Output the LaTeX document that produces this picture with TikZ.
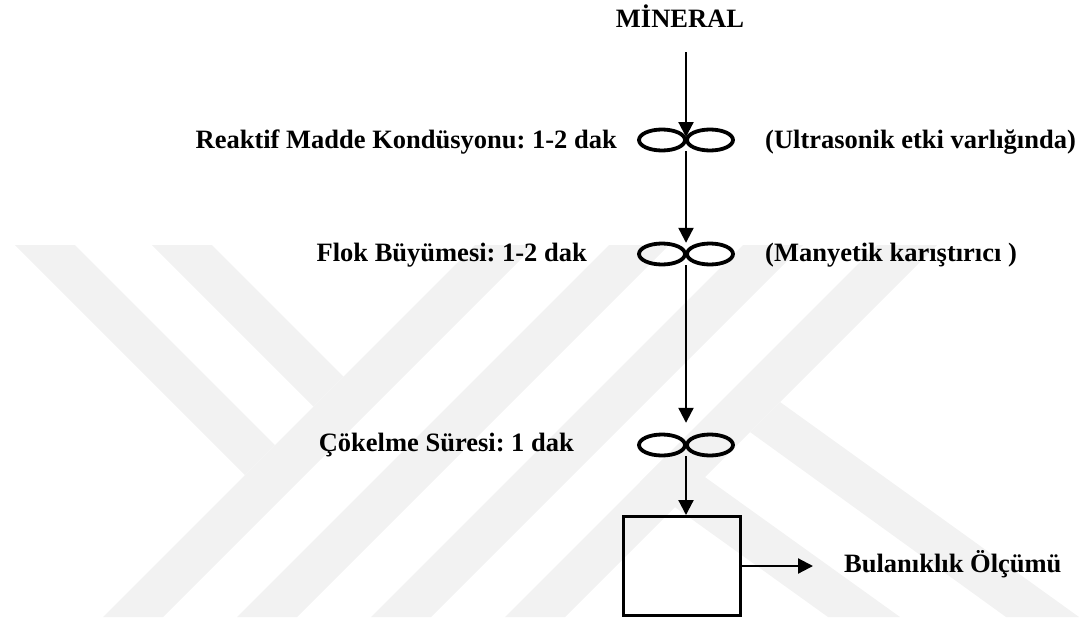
\documentclass[tikz,border=0pt]{standalone}
\usepackage{fontspec}
\setmainfont{Liberation Serif}
\usetikzlibrary{arrows.meta}
\begin{document}
\frenchspacing
\begin{tikzpicture}[x=1pt,y=-1pt,
  lbl/.style={font=\fontsize{26.5}{30}\selectfont\bfseries, inner sep=0pt},
  mixer/.style={minimum width=96pt,minimum height=22pt,inner sep=0pt},
  mixline/.style={line width=3.8pt},
  arr/.style={line width=2.2pt,-{Triangle[width=15pt,length=15pt]}},
  boxst/.style={draw,line width=3pt,minimum width=117pt,minimum height=99pt,inner sep=0pt},
  wm/.style={fill=black!5}
]
\useasboundingbox (0,0) rectangle (1081,621);
% watermark
\fill[wm] (15,245) -- (75,245) -- (275,445) -- (245,475) -- cycle;
\fill[wm] (152,245) -- (212,245) -- (343.5,376.5) -- (313.5,406.5) -- cycle;
\foreach \s in {720,854,988,1122}{
  \fill[wm] (\s-245,245) -- (\s+60-245,245) -- (\s+60-617,617) -- (\s-617,617) -- cycle;
}
\fill[wm] (780,402) -- (1079,617) -- (1006,617) -- (750,432) -- cycle;
\fill[wm] (670,452) -- (900,617) -- (828,617) -- (640,482) -- cycle;
% labels
\node[lbl,anchor=base] (min) at (680,27.5) {MİNERAL};
\node[lbl,anchor=base east] (l1) at (617,148.5) {Reaktif Madde Kondüsyonu: 1-2 dak};
\node[lbl,anchor=base west] (r1) at (765,148.5) {(Ultrasonik etki varlığında)};
\node[lbl,anchor=base east] (l2) at (587,261) {Flok Büyümesi: 1-2 dak};
\node[lbl,anchor=base west] (r2) at (765,261) {(Manyetik karıştırıcı )};
\node[lbl,anchor=base east] (l3) at (574,451) {Çökelme Süresi: 1 dak};
\node[lbl,anchor=base west] (bul) at (844,572) {Bulanıklık Ölçümü};
% mixers
\node[mixer] (m1) at (686,140) {};
\node[mixer] (m2) at (686,254) {};
\node[mixer] (m3) at (686,445) {};
\foreach \n in {m1,m2,m3}{
  \draw[mixline] ([xshift=-24pt]\n.center) ellipse [x radius=23pt,y radius=10.5pt]
                 ([xshift=24pt]\n.center) ellipse [x radius=23pt,y radius=10.5pt];
}
\node[boxst] (box) at (682,566) {};
\coordinate (t0) at (686,52);
% connectors
\draw[arr,shorten >=3pt] (t0) -- (m1.center);
\draw[arr] (m1.south) -- (m2.north);
\draw[arr,shorten >=11pt] (m2.south) -- (m3.north);
\draw[arr] (m3.south) -- (m3.south |- box.north);
\draw[arr,shorten >=31pt] (box.east) -- (box.east -| bul.west);
\end{tikzpicture}
\end{document}
